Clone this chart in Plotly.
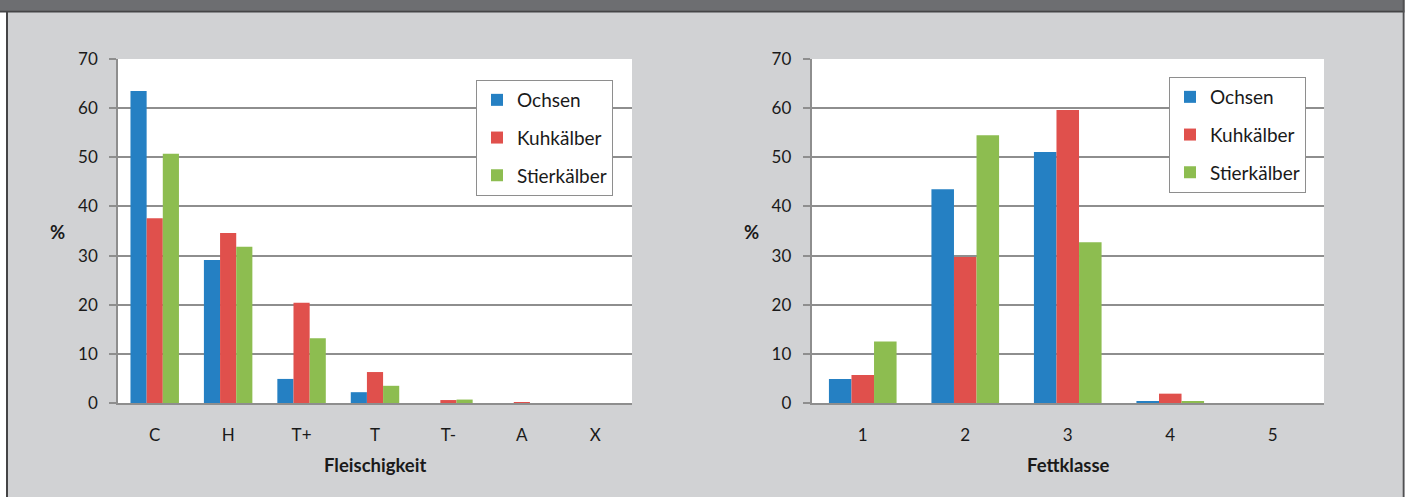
import plotly.graph_objects as go

W, H = 1410, 497

# ---- data ----
fleisch_cats = ["C", "H", "T+", "T", "T-", "A", "X"]
fleisch_ochsen = [63.5, 29.1, 4.9, 2.2, 0.0, 0.0, 0.0]
fleisch_kuh = [37.6, 34.6, 20.4, 6.3, 0.6, 0.2, 0.0]
fleisch_stier = [50.7, 31.8, 13.2, 3.5, 0.7, 0.0, 0.0]

fett_cats = ["1", "2", "3", "4", "5"]
fett_ochsen = [4.9, 43.5, 51.1, 0.3, 0.0]
fett_kuh = [5.7, 29.7, 59.6, 1.9, 0.0]
fett_stier = [12.5, 54.5, 32.7, 0.3, 0.0]

series_names = ["Ochsen", "Kuhkälber", "Stierkälber"]
colors = ["#2580c3", "#e0504c", "#8dbd50"]

FONT = "Lato, 'Open Sans', sans-serif"
GRID = "#8e8e8e"
PANEL = "#d1d2d4"


def px(x):
    return x / W


def py(y):
    return (H - y) / H


fig = go.Figure()

left_sets = [fleisch_ochsen, fleisch_kuh, fleisch_stier]
right_sets = [fett_ochsen, fett_kuh, fett_stier]
for i, name in enumerate(series_names):
    fig.add_trace(go.Bar(
        x=fleisch_cats, y=left_sets[i], name=name,
        marker=dict(color=colors[i], line=dict(width=0)),
        xaxis="x", yaxis="y", legend="legend", legendgroup="l" + str(i),
    ))
for i, name in enumerate(series_names):
    fig.add_trace(go.Bar(
        x=fett_cats, y=right_sets[i], name=name,
        marker=dict(color=colors[i], line=dict(width=0)),
        xaxis="x2", yaxis="y2", legend="legend2", legendgroup="r" + str(i),
    ))

ydom = [py(403), py(59)]
yax = dict(range=[0, 70], dtick=10, showgrid=True, gridcolor=GRID, gridwidth=1.5,
           showline=True, linecolor=GRID, linewidth=1.5, ticks="outside",
           ticklen=7, tickcolor=GRID, tickwidth=1.5, zeroline=False,
           tickfont=dict(family=FONT, size=17, color="#1a1a1a"),
           ticklabelstandoff=8, domain=ydom, fixedrange=True, automargin=False)
xax = dict(showline=True, linecolor=GRID, linewidth=1.5, ticks="outside",
           ticklen=16, tickcolor="rgba(0,0,0,0)", showgrid=False, automargin=False,
           tickfont=dict(family=FONT, size=17, color="#1a1a1a"), fixedrange=True)

legend_common = dict(
    bgcolor="white", bordercolor="#8e8e8e", borderwidth=1,
    font=dict(family=FONT, size=19, color="#1a1a1a"),
    traceorder="grouped", tracegroupgap=10, xanchor="left", yanchor="top",
    itemclick=False, itemdoubleclick=False,
)

fig.update_layout(
    width=W, height=H, autosize=False,
    margin=dict(l=0, r=0, t=0, b=0, pad=0, autoexpand=False),
    paper_bgcolor=PANEL, plot_bgcolor="white",
    barmode="group", bargap=0.34, bargroupgap=0,
    xaxis=dict(xax, domain=[px(118), px(632)], anchor="y"),
    yaxis=dict(yax, anchor="x"),
    xaxis2=dict(xax, domain=[px(811.5), px(1324)], anchor="y2"),
    yaxis2=dict(yax, anchor="x2"),
    legend=dict(legend_common, x=px(476), y=py(80)),
    legend2=dict(legend_common, x=px(1169), y=py(77)),
    showlegend=True,
)

# frame: header, borders, white outer strips
shapes = [
    dict(type="rect", x0=0, x1=px(6), y0=0, y1=1, fillcolor="white", line_width=0),
    dict(type="rect", x0=px(1404.5), x1=1, y0=0, y1=1, fillcolor="white", line_width=0),
    dict(type="rect", x0=0, x1=px(1404.5), y0=py(11), y1=1, fillcolor="#6d6e71", line_width=0),
    dict(type="rect", x0=0, x1=px(1404.5), y0=py(12.5), y1=py(10.7), fillcolor="#444446", line_width=0),
    dict(type="rect", x0=px(6), x1=px(8), y0=0, y1=py(11), fillcolor="#444446", line_width=0),
    dict(type="rect", x0=px(1402.7), x1=px(1404.5), y0=0, y1=1, fillcolor="#505052", line_width=0),
]
for s in shapes:
    s.update(xref="paper", yref="paper", layer="above")
fig.update_layout(shapes=shapes)

ann_font = dict(family=FONT, size=18.5, color="#1a1a1a")
annotations = [
    dict(text="<b>Fleischigkeit</b>", x=px(375), y=py(465)),
    dict(text="<b>Fettklasse</b>", x=px(1068), y=py(465)),
    dict(text="<b>%</b>", x=px(57), y=py(232)),
    dict(text="<b>%</b>", x=px(751), y=py(232)),
]
for a in annotations:
    a.update(xref="paper", yref="paper", showarrow=False, font=ann_font,
             xanchor="center", yanchor="middle")
fig.update_layout(annotations=annotations)

fig.write_html("out.html", config=dict(displayModeBar=False))
